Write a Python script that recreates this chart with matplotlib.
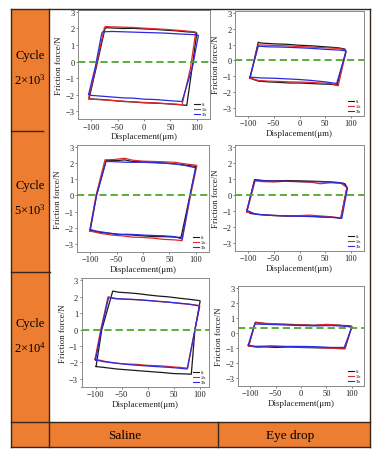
import matplotlib
matplotlib.use("Agg")
import matplotlib.pyplot as plt
from matplotlib.patches import Rectangle
from matplotlib.lines import Line2D

plt.rcParams['font.family'] = ['Liberation Serif', 'DejaVu Serif']
plt.rcParams['mathtext.fontset'] = 'custom'
plt.rcParams['mathtext.rm'] = 'Liberation Serif'
plt.rcParams['mathtext.it'] = 'Liberation Serif:italic'

# ---------------- data ----------------
ROW_LABELS = [r'$\mathregular{2{\times}10^{3}}$', r'$\mathregular{5{\times}10^{3}}$', r'$\mathregular{2{\times}10^{4}}$']
COL_LABELS = ["Saline", "Eye drop"]
SERIES_NAMES = ["0s", "13s", "33s"]
SERIES_COLORS = ["#1a1a1a", "#e0282a", "#2a2ae0"]
X_TICKS = [-100, -50, 0, 50, 100]
Y_TICKS = [-3, -2, -1, 0, 1, 2, 3]
ZERO_LEVEL = [0.0, 0.0, 0.0, 0.0, 0.0, 0.33]

# Saline, 2x10^3
SAL1_0S_X = [-104, -90, -74, -72, -60, -40, -20, 0, 20, 40, 60, 80, 95, 100, 91, 81, 70, 60, 40, 20, 0, -20, -40, -60, -80, -100, -104]
SAL1_0S_Y = [-2.25, -0.3, 1.98, 2.05, 2.03, 2.0, 2.01, 1.97, 1.95, 1.9, 1.86, 1.8, 1.77, 1.72, -0.4, -2.66, -2.62, -2.6, -2.55, -2.52, -2.5, -2.45, -2.42, -2.36, -2.3, -2.27, -2.25]
SAL1_13S_X = [-105, -91, -75, -73, -60, -40, -20, 0, 20, 40, 60, 80, 95, 98, 88, 72, 60, 40, 20, 0, -20, -40, -60, -80, -100, -105]
SAL1_13S_Y = [-2.25, -0.3, 2.05, 2.12, 2.1, 2.08, 2.06, 2.02, 1.98, 1.95, 1.9, 1.85, 1.8, 1.78, -0.4, -2.62, -2.58, -2.55, -2.5, -2.48, -2.45, -2.4, -2.36, -2.32, -2.28, -2.25]
SAL1_33S_X = [-105, -92, -80, -78, -60, -40, -20, 0, 20, 40, 60, 80, 98, 103, 92, 72, 60, 40, 20, 0, -20, -40, -60, -80, -100, -105]
SAL1_33S_Y = [-2.0, -0.3, 1.72, 1.8, 1.82, 1.8, 1.78, 1.76, 1.74, 1.72, 1.68, 1.65, 1.62, 1.58, -0.3, -2.42, -2.4, -2.35, -2.3, -2.28, -2.22, -2.2, -2.15, -2.1, -2.05, -2.0]

# Eye drop, 2x10^3
EYE1_0S_X = [-96, -80, -75, -50, -25, 0, 25, 50, 75, 88, 90, 73, 60, 40, 20, 0, -20, -40, -60, -80, -96]
EYE1_0S_Y = [-1.12, 1.15, 1.1, 1.05, 1.02, 0.96, 0.92, 0.86, 0.8, 0.72, 0.6, -1.55, -1.5, -1.48, -1.45, -1.42, -1.42, -1.38, -1.35, -1.3, -1.12]
EYE1_13S_X = [-96, -80, -60, -25, 0, 25, 50, 75, 88, 90, 75, 60, 40, 20, 0, -20, -40, -60, -80, -96]
EYE1_13S_Y = [-1.1, 0.98, 0.96, 0.92, 0.88, 0.84, 0.8, 0.76, 0.68, 0.55, -1.6, -1.45, -1.42, -1.38, -1.36, -1.35, -1.32, -1.3, -1.26, -1.1]
EYE1_33S_X = [-96, -80, -60, -30, 0, 25, 50, 75, 88, 90, 72, 50, 20, 0, -30, -50, -75, -96]
EYE1_33S_Y = [-1.05, 0.9, 0.86, 0.84, 0.8, 0.76, 0.7, 0.66, 0.62, 0.5, -1.45, -1.35, -1.25, -1.2, -1.15, -1.12, -1.1, -1.05]

# Saline, 5x10^3
SAL2_0S_X = [-100, -88, -70, -50, -35, -20, 0, 20, 40, 60, 80, 98, 100, 89, 72, 60, 40, 20, 0, -20, -40, -60, -80, -100]
SAL2_0S_Y = [-2.15, 0.0, 2.15, 2.15, 2.2, 2.1, 2.08, 2.05, 2.0, 1.95, 1.88, 1.8, 1.77, 0.0, -2.6, -2.58, -2.55, -2.55, -2.5, -2.45, -2.42, -2.35, -2.3, -2.15]
SAL2_13S_X = [-101, -89, -72, -55, -35, -20, 0, 20, 40, 60, 80, 98, 102, 90, 74, 60, 40, 20, 0, -20, -40, -60, -80, -101]
SAL2_13S_Y = [-2.2, 0.0, 2.2, 2.22, 2.3, 2.18, 2.12, 2.1, 2.08, 2.05, 1.95, 1.88, 1.85, 0.0, -2.8, -2.75, -2.72, -2.65, -2.6, -2.58, -2.5, -2.45, -2.35, -2.2]
SAL2_33S_X = [-100, -88, -70, -50, -30, 0, 20, 40, 60, 80, 98, 100, 89, 74, 60, 40, 20, 0, -30, -50, -70, -90, -100]
SAL2_33S_Y = [-2.1, 0.0, 2.1, 2.08, 2.05, 2.05, 2.02, 2.0, 1.95, 1.85, 1.72, 1.7, 0.0, -2.7, -2.55, -2.5, -2.48, -2.45, -2.4, -2.42, -2.3, -2.2, -2.1]

# Eye drop, 5x10^3
EYE2_0S_X = [-102, -87, -70, -50, -25, 0, 25, 50, 75, 88, 92, 80, 70, 50, 25, 0, -25, -50, -75, -95, -102]
EYE2_0S_Y = [-1.0, 0.98, 0.92, 0.9, 0.92, 0.9, 0.88, 0.85, 0.8, 0.72, 0.5, -1.45, -1.4, -1.38, -1.32, -1.3, -1.3, -1.28, -1.22, -1.15, -1.0]
EYE2_13S_X = [-102, -86, -70, -50, -25, 0, 25, 40, 60, 80, 92, 80, 60, 40, 20, 0, -20, -40, -60, -80, -102]
EYE2_13S_Y = [-1.05, 0.9, 0.85, 0.83, 0.88, 0.85, 0.8, 0.72, 0.78, 0.75, 0.48, -1.42, -1.35, -1.3, -1.25, -1.28, -1.32, -1.28, -1.25, -1.2, -1.05]
EYE2_33S_X = [-102, -87, -70, -40, 0, 30, 60, 85, 93, 82, 60, 30, 0, -30, -60, -85, -102]
EYE2_33S_Y = [-0.95, 0.95, 0.9, 0.88, 0.85, 0.85, 0.82, 0.75, 0.45, -1.45, -1.38, -1.35, -1.32, -1.3, -1.25, -1.2, -0.95]

# Saline, 2x10^4
SAL3_0S_X = [-99, -88, -67, -55, -40, -20, 0, 20, 40, 60, 80, 98, 101, 91, 84, 70, 50, 30, 0, -20, -40, -60, -80, -99]
SAL3_0S_Y = [-2.25, 0.0, 2.35, 2.28, 2.25, 2.2, 2.12, 2.05, 2.0, 1.92, 1.85, 1.78, 1.75, 0.0, -2.72, -2.7, -2.68, -2.62, -2.55, -2.5, -2.45, -2.4, -2.32, -2.25]
SAL3_13S_X = [-101, -90, -76, -60, -40, -20, 0, 20, 40, 60, 80, 98, 100, 91, 77, 60, 40, 20, 0, -20, -40, -60, -80, -101]
SAL3_13S_Y = [-1.8, 0.0, 2.0, 1.9, 1.85, 1.82, 1.78, 1.72, 1.68, 1.6, 1.55, 1.48, 1.45, 0.0, -2.35, -2.3, -2.25, -2.2, -2.18, -2.12, -2.1, -2.05, -1.95, -1.8]
SAL3_33S_X = [-100, -89, -75, -60, -30, 0, 30, 60, 80, 98, 100, 91, 76, 60, 40, 0, -30, -60, -85, -100]
SAL3_33S_Y = [-1.85, 0.0, 1.95, 1.88, 1.85, 1.78, 1.7, 1.62, 1.55, 1.45, 1.42, 0.0, -2.4, -2.35, -2.3, -2.22, -2.15, -2.05, -1.95, -1.85]

# Eye drop, 2x10^4
EYE3_0S_X = [-103, -90, -85, -70, -50, -25, 0, 25, 50, 75, 95, 100, 87, 70, 50, 25, 0, -25, -50, -75, -95, -103]
EYE3_0S_Y = [-0.85, 0.72, 0.7, 0.62, 0.6, 0.58, 0.55, 0.52, 0.55, 0.52, 0.48, 0.45, -1.0, -1.0, -0.98, -0.97, -0.95, -0.92, -0.95, -0.9, -0.88, -0.85]
EYE3_13S_X = [-103, -90, -70, -50, -25, 0, 25, 50, 75, 100, 86, 60, 30, 0, -30, -60, -85, -103]
EYE3_13S_Y = [-0.85, 0.68, 0.65, 0.6, 0.55, 0.55, 0.5, 0.58, 0.52, 0.42, -1.05, -1.0, -0.95, -0.92, -0.9, -0.88, -0.95, -0.85]
EYE3_33S_X = [-104, -91, -70, -40, 0, 30, 60, 90, 100, 85, 60, 30, 0, -30, -60, -90, -104]
EYE3_33S_Y = [-0.8, 0.6, 0.58, 0.55, 0.5, 0.48, 0.5, 0.45, 0.38, -0.95, -0.95, -0.9, -0.88, -0.88, -0.85, -0.88, -0.8]

PANELS = [
    [(SAL1_0S_X, SAL1_0S_Y), (SAL1_13S_X, SAL1_13S_Y), (SAL1_33S_X, SAL1_33S_Y)],
    [(EYE1_0S_X, EYE1_0S_Y), (EYE1_13S_X, EYE1_13S_Y), (EYE1_33S_X, EYE1_33S_Y)],
    [(SAL2_0S_X, SAL2_0S_Y), (SAL2_13S_X, SAL2_13S_Y), (SAL2_33S_X, SAL2_33S_Y)],
    [(EYE2_0S_X, EYE2_0S_Y), (EYE2_13S_X, EYE2_13S_Y), (EYE2_33S_X, EYE2_33S_Y)],
    [(SAL3_0S_X, SAL3_0S_Y), (SAL3_13S_X, SAL3_13S_Y), (SAL3_33S_X, SAL3_33S_Y)],
    [(EYE3_0S_X, EYE3_0S_Y), (EYE3_13S_X, EYE3_13S_Y), (EYE3_33S_X, EYE3_33S_Y)],
]

# ---------------- layout ----------------
W, H = 382, 452
fig = plt.figure(figsize=(W / 100, H / 100), dpi=100)
fig.patch.set_facecolor('white')

def fx(x):
    return x / W

def fy(y):
    return 1 - y / H

ORANGE = '#ED7D31'
LINEC = '#3a2616'

# orange cells
fig.patches.append(Rectangle((fx(11), fy(423)), fx(49) - fx(11), fy(9.5) - fy(423),
                             transform=fig.transFigure, facecolor=ORANGE, edgecolor='none', zorder=0))
fig.patches.append(Rectangle((fx(11), fy(448)), fx(370) - fx(11), fy(423) - fy(448),
                             transform=fig.transFigure, facecolor=ORANGE, edgecolor='none', zorder=0))

def fline(x0, y0, x1, y1, lw=1.0, color=LINEC):
    fig.lines.append(Line2D([fx(x0), fx(x1)], [fy(y0), fy(y1)], transform=fig.transFigure,
                            color=color, linewidth=lw, zorder=5))

fline(11, 9.5, 370, 9.5)
fline(11, 448, 370, 448)
fline(11, 9.5, 11, 448)
fline(370, 9.5, 370, 448)
fline(49, 9.5, 49, 448)
fline(11, 423, 370, 423)
fline(218, 423, 218, 448)
fline(11, 132, 43, 132)
fline(11, 273, 50, 273)

# row / column labels
row_y = [(56, 80), (186, 210), (324, 348)]
for (ya, yb), lab in zip(row_y, ROW_LABELS):
    fig.text(fx(30), fy(ya), "Cycle", ha='center', va='center', fontsize=9)
    fig.text(fx(30), fy(yb), lab, ha='center', va='center', fontsize=9)
fig.text(fx(125), fy(436), COL_LABELS[0], ha='center', va='center', fontsize=9.5)
fig.text(fx(290), fy(436), COL_LABELS[1], ha='center', va='center', fontsize=9.5)

# axes boxes in pixels: (left, right, top, bottom)
BOXES = [
    (78, 210, 10.5, 120.3),
    (235, 364, 11.5, 117),
    (77, 209, 145.5, 253),
    (235, 364, 146, 252),
    (81.5, 209, 279, 388),
    (238, 364, 286.5, 387),
]
XLIMS = [(-125, 125), (-125, 125), (-125, 125), (-125, 125), (-127, 118), (-124, 124)]
YLIM = (-3.5, 3.15)

for i, (box, series) in enumerate(zip(BOXES, PANELS)):
    l, r, t, b = box
    ax = fig.add_axes([fx(l), fy(b), fx(r) - fx(l), fy(t) - fy(b)])
    ax.set_facecolor('none')
    for (xs, ys), name, col in zip(series, SERIES_NAMES, SERIES_COLORS):
        ax.plot(xs, ys, color=col, linewidth=0.9, label=name)
    ax.axhline(ZERO_LEVEL[i], color='#4ea72e', linewidth=1.3, linestyle=(0, (4, 2.2)), zorder=3)
    ax.set_xlim(*XLIMS[i])
    ax.set_ylim(*YLIM)
    ax.set_xticks(X_TICKS)
    ax.set_yticks(Y_TICKS)
    ax.tick_params(axis='both', labelsize=6, length=1.5, width=0.5, pad=1,
                   colors='#555555', labelcolor='#222222', direction='out')
    for sp in ax.spines.values():
        sp.set_color('#8a8a8a')
        sp.set_linewidth(0.7)
    ax.set_xlabel("Displacement(\u03bcm)", fontsize=6.5, labelpad=1, color='#222222')
    ax.set_ylabel("Friction force/N", fontsize=6.5, labelpad=1.5, color='#222222')
    leg = ax.legend(loc='lower right', fontsize=2.8, frameon=False, handlelength=1.6,
                    handletextpad=0.4, labelspacing=0.25, borderaxespad=0.4)
    for line in leg.get_lines():
        line.set_linewidth(0.8)

fig.savefig("out.png", dpi=100, facecolor='white')
